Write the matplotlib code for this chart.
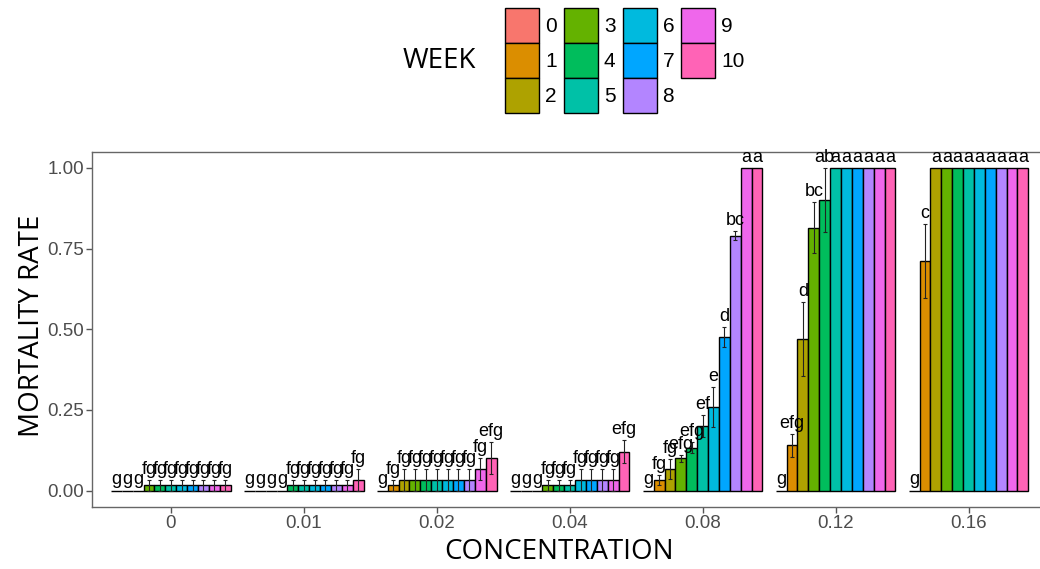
import matplotlib
matplotlib.use('Agg')
import matplotlib.pyplot as plt
from matplotlib.patches import Patch
import numpy as np

plt.rcParams['font.family'] = ['Liberation Sans', 'DejaVu Sans']

# categories
concentrations = ['0', '0.01', '0.02', '0.04', '0.08', '0.12', '0.16']
weeks = ['0', '1', '2', '3', '4', '5', '6', '7', '8', '9', '10']
week_colors = ['#F8766D', '#DB8E00', '#AEA200', '#64B200', '#00BD5C', '#00C1A7',
               '#00BADE', '#00A6FF', '#B385FF', '#EF67EB', '#FF63B6']

# mean mortality, one row per concentration, one column per week
mortality = [
    [0, 0, 0, 0.017, 0.017, 0.017, 0.017, 0.017, 0.017, 0.017, 0.017],
    [0, 0, 0, 0, 0.017, 0.017, 0.017, 0.017, 0.017, 0.017, 0.033],
    [0, 0.017, 0.033, 0.033, 0.033, 0.033, 0.033, 0.033, 0.033, 0.067, 0.10],
    [0, 0, 0, 0.017, 0.017, 0.017, 0.033, 0.033, 0.033, 0.033, 0.12],
    [0, 0.033, 0.067, 0.10, 0.133, 0.20, 0.26, 0.476, 0.79, 1.0, 1.0],
    [0, 0.14, 0.47, 0.815, 0.90, 1.0, 1.0, 1.0, 1.0, 1.0, 1.0],
    [0, 0.712, 1.0, 1.0, 1.0, 1.0, 1.0, 1.0, 1.0, 1.0, 1.0],
]

# standard error
mortality_se = [
    [0, 0, 0, 0.017, 0.017, 0.017, 0.017, 0.017, 0.017, 0.017, 0.017],
    [0, 0, 0, 0, 0.017, 0.017, 0.017, 0.017, 0.017, 0.017, 0.033],
    [0, 0.017, 0.033, 0.033, 0.033, 0.033, 0.033, 0.033, 0.033, 0.033, 0.05],
    [0, 0, 0, 0.017, 0.017, 0.017, 0.033, 0.033, 0.033, 0.033, 0.036],
    [0, 0.016, 0.03, 0.01, 0.017, 0.033, 0.062, 0.03, 0.014, 0, 0],
    [0, 0.036, 0.115, 0.08, 0.10, 0, 0, 0, 0, 0, 0],
    [0, 0.115, 0, 0, 0, 0, 0, 0, 0, 0, 0],
]

# significance letters
letters = [
    ['g', 'g', 'g', 'fg', 'fg', 'fg', 'fg', 'fg', 'fg', 'fg', 'fg'],
    ['g', 'g', 'g', 'g', 'fg', 'fg', 'fg', 'fg', 'fg', 'fg', 'fg'],
    ['g', 'fg', 'fg', 'fg', 'fg', 'fg', 'fg', 'fg', 'fg', 'fg', 'efg'],
    ['g', 'g', 'g', 'fg', 'fg', 'fg', 'fg', 'fg', 'fg', 'fg', 'efg'],
    ['g', 'fg', 'fg', 'efg', 'efg', 'ef', 'e', 'd', 'bc', 'a', 'a'],
    ['g', 'efg', 'd', 'bc', 'ab', 'a', 'a', 'a', 'a', 'a', 'a'],
    ['g', 'c', 'a', 'a', 'a', 'a', 'a', 'a', 'a', 'a', 'a'],
]

W, H = 1040, 569
fig = plt.figure(figsize=(W / 100, H / 100), dpi=100)
ax = fig.add_axes([92.3 / W, 1 - 506.7 / H, 956 / W, 355 / H])

n_weeks = len(weeks)
bar_w = 0.9 / n_weeks
x = np.arange(len(concentrations))
mort = np.array(mortality)
se = np.array(mortality_se)

for k in range(n_weeks):
    xs = x + (k - (n_weeks - 1) / 2) * bar_w
    ax.bar(xs, mort[:, k], width=bar_w, color=week_colors[k],
           edgecolor='black', linewidth=1.0, zorder=2)
    has_err = se[:, k] > 0
    if has_err.any():
        ax.errorbar(xs[has_err], mort[has_err, k], yerr=se[has_err, k], fmt='none',
                    ecolor='#222222', elinewidth=0.8, capsize=1.5, capthick=0.8, zorder=3)
    for i in range(len(concentrations)):
        ax.annotate(letters[i][k], (xs[i], mort[i, k] + se[i, k]),
                    xytext=(0, 1.5), textcoords='offset points',
                    ha='center', va='bottom', fontsize=13, color='black', zorder=4)

ax.set_xlim(-0.59, 6.6)
ax.set_ylim(-0.05, 1.05)
ax.set_xticks(x)
ax.set_xticklabels(concentrations)
ax.set_yticks([0, 0.25, 0.5, 0.75, 1.0])
ax.set_yticklabels(['0.00', '0.25', '0.50', '0.75', '1.00'])
ax.tick_params(axis='both', labelsize=13.5, labelcolor='#4D4D4D', color='#555555',
               length=4, width=1.0, pad=2)
for s in ax.spines.values():
    s.set_color('#666666')
    s.set_linewidth(1.0)

ax.set_xlabel('CONCENTRATION', fontsize=20, family='Open Sans')
ax.xaxis.set_label_coords((559.5 - 92.3) / 956, -(538 - 506.7) / 355)
ax.set_ylabel('MORTALITY RATE', fontsize=20, family='Open Sans')
ax.yaxis.set_label_coords((46 - 92.3) / 956, (506.7 - 326) / 355)

handles = [Patch(facecolor=c, edgecolor='black', linewidth=1.0) for c in week_colors]
fig.legend(handles, weeks, loc='upper left', bbox_to_anchor=(505 / W, 1 - 8 / H),
           ncol=4, frameon=False, prop={'family': 'Liberation Sans', 'size': 15},
           handlelength=1.63, handleheight=2.21, handletextpad=0.29,
           columnspacing=0.34, labelspacing=0, borderpad=0, borderaxespad=0)
fig.text(403 / W, 1 - 61 / H, 'WEEK', family='Open Sans', fontsize=20,
         ha='left', va='center')

fig.savefig('out.png', dpi=100)
